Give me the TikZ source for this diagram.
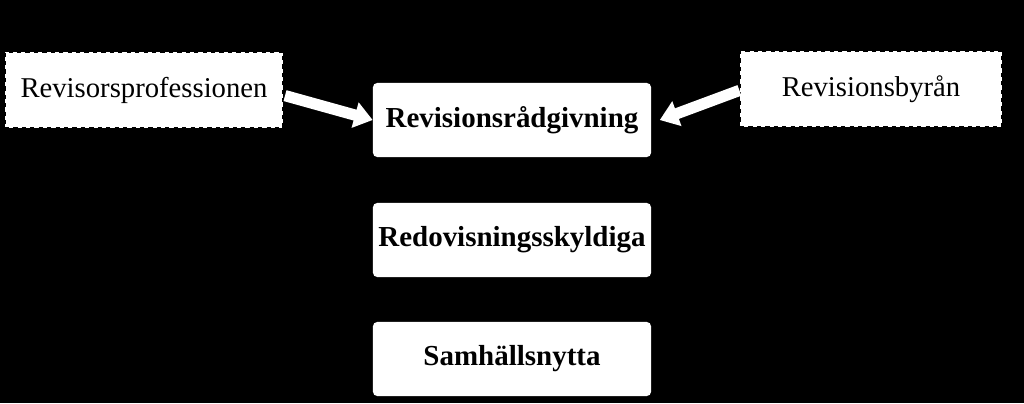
\documentclass[tikz,border=0pt]{standalone}
\usepackage{fontspec}
\setmainfont{Liberation Serif}
\usetikzlibrary{arrows.meta}
\begin{document}
\begin{tikzpicture}[x=0.025cm,y=-0.025cm,
  outer/.style={draw=black,dashed,fill=white,line width=0.8pt,minimum height=1.9cm,font=\fontsize{20.4}{24}\selectfont},
  inner/.style={fill=white,rounded corners=3pt,minimum width=6.95cm,minimum height=1.85cm,font=\bfseries\fontsize{20.6}{24}\selectfont},
  barrow/.style={white,line width=8pt,-{Triangle[length=13pt,width=18pt]}}]
\fill[black] (0,0) rectangle (1024,403);
\node[outer,minimum width=6.95cm] (p) at (144,90) {Revisorsprofessionen};
\node[outer,minimum width=6.55cm] (b) at (871,89) {Revisionsbyrån};
\node[inner] (r) at (512,120) {Revisionsrådgivning};
\node[inner] (d) at (512,240) {Redovisningsskyldiga};
\node[inner] (s) at (512,359) {Samhällsnytta};
\draw[barrow] ([xshift=1pt,yshift=-4pt]p.east) -- (r.west);
\draw[barrow] ([yshift=-1pt]b.west) -- ([xshift=6pt]r.east);
\end{tikzpicture}
\end{document}
